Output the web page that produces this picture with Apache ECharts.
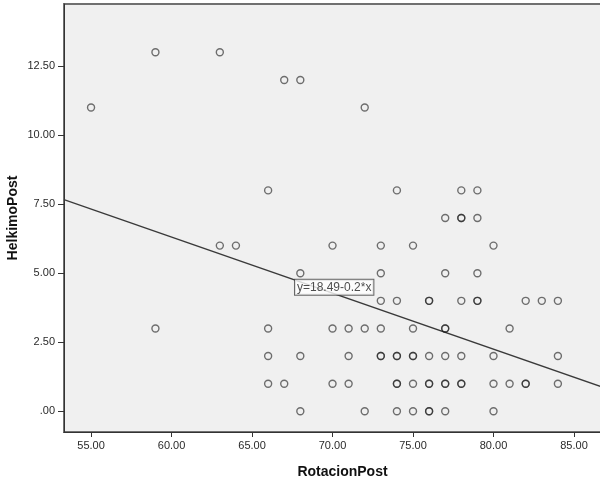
<!DOCTYPE html>
<html>
<head>
<meta charset="utf-8">
<script src="https://cdn.jsdelivr.net/npm/echarts@6/dist/echarts.min.js"></script>
<style>
html, body { margin: 0; padding: 0; background: #fff; }
#myChart { width: 600px; height: 481px; }
</style>
</head>
<body>
<div id="myChart"></div>
<script>
// scatter data: RotacionPost (x) vs HelkimoPost (y), repeated pairs are overlapping cases
var rotacionPost = [
    59, 63,
    67, 68,
    55, 72,
    66, 74, 78, 79,
    77, 78, 78, 79,
    63, 64, 70, 73, 75, 80,
    68, 73, 77, 79,
    73, 74, 76, 76, 78, 79, 79, 82, 83, 84,
    59, 66, 70, 71, 72, 73, 75, 77, 77, 81,
    66, 68, 71, 73, 73, 74, 74, 75, 75, 76, 77, 78, 80, 84,
    66, 67, 70, 71, 74, 74, 75, 76, 76, 77, 77, 78, 78, 80, 81, 82, 82, 84,
    68, 72, 74, 75, 76, 76, 77, 80
];
var helkimoPost = [
    13, 13,
    12, 12,
    11, 11,
    8, 8, 8, 8,
    7, 7, 7, 7,
    6, 6, 6, 6, 6, 6,
    5, 5, 5, 5,
    4, 4, 4, 4, 4, 4, 4, 4, 4, 4,
    3, 3, 3, 3, 3, 3, 3, 3, 3, 3,
    2, 2, 2, 2, 2, 2, 2, 2, 2, 2, 2, 2, 2, 2,
    1, 1, 1, 1, 1, 1, 1, 1, 1, 1, 1, 1, 1, 1, 1, 1, 1, 1,
    0, 0, 0, 0, 0, 0, 0, 0
];

// fit line y = a + b*x
var fitIntercept = 18.49;
var fitSlope = -0.203;
var fitText = 'y=18.49-0.2*x';
var fitLabelX = 67.7;

var xTicks = [55, 60, 65, 70, 75, 80, 85];
var yTicks = [0, 2.5, 5, 7.5, 10, 12.5];

var xMin = 53.32, xMax = 87.92;
var yMin = -0.75, yMax = 14.75;

function fmt(v) {
    var s = v.toFixed(2);
    return s.indexOf('0.') === 0 ? s.substring(1) : s;
}
function fitY(x) {
    return fitIntercept + fitSlope * x;
}

var points = rotacionPost.map(function (x, i) { return [x, helkimoPost[i]]; });

var myChart = echarts.init(document.getElementById('myChart'));
var option = {
    animation: false,
    backgroundColor: '#fff',
    grid: {
        left: 64,
        right: -21,
        top: 4,
        bottom: 49,
        containLabel: false,
        outerBoundsMode: 'none',
        show: true,
        backgroundColor: '#f0f0f0',
        borderColor: '#707070',
        borderWidth: 2
    },
    xAxis: {
        type: 'value',
        min: xMin,
        max: xMax,
        name: 'RotacionPost',
        nameLocation: 'middle',
        nameGap: 33,
        nameMoveOverlap: false,
        nameTextStyle: { fontFamily: 'Liberation Sans', fontWeight: 'bold', fontSize: 14, color: '#111' },
        axisLine: { show: true, onZero: false, lineStyle: { color: '#333', width: 1 } },
        axisTick: { show: true, length: 5, customValues: xTicks, lineStyle: { color: '#333' } },
        axisLabel: {
            customValues: xTicks,
            formatter: fmt,
            margin: 8,
            fontFamily: 'Liberation Sans',
            fontSize: 11,
            color: '#2a2a2a'
        },
        splitLine: { show: false }
    },
    yAxis: {
        type: 'value',
        min: yMin,
        max: yMax,
        name: 'HelkimoPost',
        nameLocation: 'middle',
        nameGap: 44,
        nameMoveOverlap: false,
        nameTextStyle: { fontFamily: 'Liberation Sans', fontWeight: 'bold', fontSize: 14, color: '#111' },
        axisLine: { show: true, onZero: false, lineStyle: { color: '#333', width: 1 } },
        axisTick: { show: true, length: 6, customValues: yTicks, lineStyle: { color: '#333' } },
        axisLabel: {
            customValues: yTicks,
            formatter: fmt,
            margin: 9,
            fontFamily: 'Liberation Sans',
            fontSize: 11,
            color: '#2a2a2a'
        },
        splitLine: { show: false }
    },
    series: [
        {
            name: 'fit',
            type: 'line',
            data: [[xMin, fitY(xMin)], [xMax, fitY(xMax)]],
            showSymbol: false,
            lineStyle: { color: '#3a3a3a', width: 1.3 },
            z: 2
        },
        {
            name: 'points',
            type: 'scatter',
            data: points,
            symbol: 'circle',
            symbolSize: 7,
            itemStyle: {
                color: 'rgba(0,0,0,0)',
                borderColor: 'rgba(30,30,30,0.78)',
                borderWidth: 1.4
            },
            z: 3
        },
        {
            name: 'fitLabel',
            type: 'scatter',
            data: [[fitLabelX, fitY(fitLabelX)]],
            symbolSize: 1,
            itemStyle: { color: 'rgba(0,0,0,0)' },
            label: {
                show: true,
                formatter: fitText,
                position: [0, 0],
                fontFamily: 'Liberation Sans',
                fontSize: 12,
                color: '#222',
                backgroundColor: '#fff',
                borderColor: '#444',
                borderWidth: 1,
                padding: [2, 2, 1, 2]
            },
            z: 5
        }
    ]
};
myChart.setOption(option);
</script>
</body>
</html>
